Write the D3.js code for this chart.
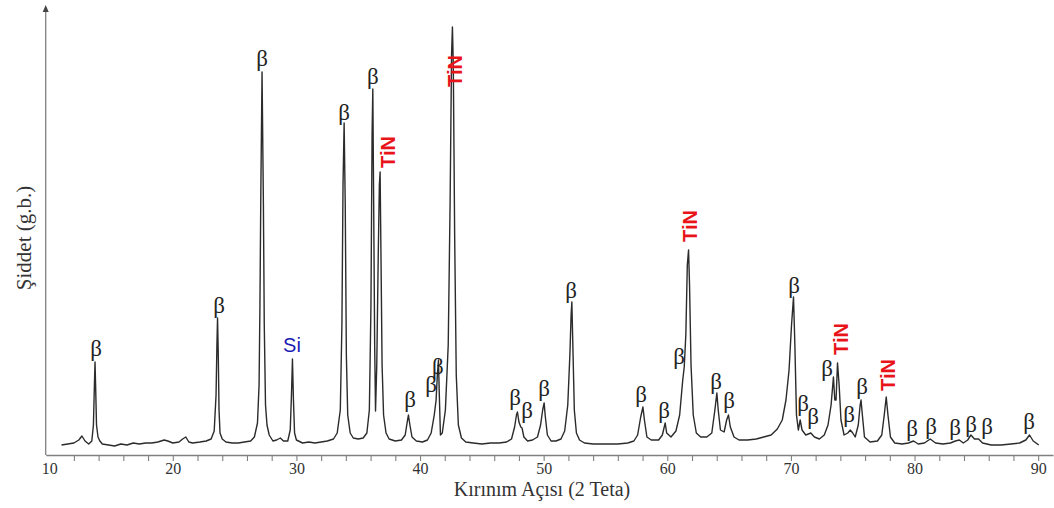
<!DOCTYPE html>
<html>
<head>
<meta charset="utf-8">
<script src="https://cdn.jsdelivr.net/npm/d3@7"></script>
<style>
  body { margin: 0; background: #fff; }
  svg { display: block; }
</style>
</head>
<body>
<svg id="chart" width="1054" height="508"></svg>
<script>
// ─── Data ─────────────────────────────────────────────────────────────────────

// XRD pattern: [2θ, intensity (a.u.)]
const pattern = [
    [11.0, 10], [11.5, 11], [12.0, 12], [12.4, 15], [12.65, 19], [12.9, 14], [13.2, 11], [13.45, 14],
    [13.58, 30], [13.66, 70], [13.71, 93], [13.76, 68], [13.83, 30], [13.95, 18], [14.1, 14], [14.3, 11],
    [14.8, 10], [15.3, 9], [15.8, 11], [16.3, 10], [16.8, 12], [17.3, 11], [17.8, 12], [18.3, 12],
    [18.8, 13], [19.3, 15], [19.6, 14], [20.0, 12], [20.5, 13], [20.8, 16], [21.05, 18], [21.3, 13],
    [21.6, 12], [22.2, 13], [22.7, 14], [23.1, 16], [23.35, 24], [23.5, 60], [23.57, 110], [23.62, 137],
    [23.68, 100], [23.74, 45], [23.82, 22], [24.0, 16], [24.3, 13], [24.8, 12], [25.3, 12], [25.8, 13],
    [26.3, 14], [26.6, 18], [26.85, 32], [26.98, 70], [27.05, 150], [27.12, 260], [27.22, 383], [27.33, 250],
    [27.4, 130], [27.5, 50], [27.62, 30], [27.8, 20], [28.1, 14], [28.4, 15], [28.7, 17], [28.95, 14],
    [29.3, 14], [29.5, 25], [29.6, 60], [29.68, 96], [29.76, 55], [29.85, 22], [30.0, 15], [30.5, 12],
    [31.0, 13], [31.5, 12], [32.0, 13], [32.5, 14], [33.0, 16], [33.3, 22], [33.55, 45], [33.68, 130],
    [33.77, 270], [33.86, 332], [33.95, 250], [34.04, 100], [34.15, 40], [34.35, 22], [34.6, 17], [35.0, 16],
    [35.4, 17], [35.7, 22], [35.9, 45], [36.03, 150], [36.12, 320], [36.18, 366], [36.25, 250], [36.33, 110],
    [36.4, 44], [36.5, 90], [36.62, 200], [36.71, 270], [36.77, 283], [36.84, 200], [36.93, 90], [37.05, 40],
    [37.25, 22], [37.5, 16], [38.0, 14], [38.5, 15], [38.8, 20], [38.95, 32], [39.06, 40], [39.18, 30],
    [39.35, 18], [39.7, 14], [40.2, 13], [40.6, 15], [40.9, 22], [41.15, 40], [41.3, 55], [41.4, 80],
    [41.49, 95], [41.56, 60], [41.65, 20], [41.8, 22], [42.05, 45], [42.28, 110], [42.43, 250], [42.55, 400],
    [42.62, 428], [42.69, 390], [42.8, 220], [42.93, 80], [43.1, 30], [43.35, 17], [43.7, 13], [44.3, 12],
    [45.0, 11], [45.7, 12], [46.4, 12], [47.0, 13], [47.4, 16], [47.65, 28], [47.8, 40], [47.88, 43],
    [48.0, 33], [48.15, 28], [48.25, 27], [48.4, 18], [48.7, 14], [49.1, 15], [49.5, 18], [49.75, 30],
    [49.92, 45], [50.04, 52], [50.12, 40], [50.3, 20], [50.6, 14], [51.0, 14], [51.4, 16], [51.7, 24],
    [51.95, 50], [52.12, 100], [52.22, 140], [52.28, 153], [52.36, 110], [52.48, 45], [52.65, 22], [52.9, 15],
    [53.3, 12], [54.0, 11], [55.0, 11], [56.0, 11], [56.8, 12], [57.3, 14], [57.6, 20], [57.85, 38],
    [58.03, 48], [58.15, 35], [58.35, 18], [58.7, 15], [59.3, 15], [59.6, 20], [59.83, 32], [59.95, 22],
    [60.3, 18], [60.7, 24], [61.0, 40], [61.25, 75], [61.37, 88], [61.5, 120], [61.62, 190], [61.72, 205],
    [61.8, 170], [61.92, 90], [62.1, 40], [62.35, 22], [62.7, 18], [63.2, 18], [63.6, 22], [63.85, 45],
    [64.01, 62], [64.12, 45], [64.3, 25], [64.6, 23], [64.8, 35], [64.95, 40], [65.1, 28], [65.4, 18],
    [65.8, 15], [66.5, 15], [67.2, 16], [67.8, 18], [68.4, 20], [68.9, 26], [69.3, 35], [69.6, 55],
    [69.85, 85], [70.05, 130], [70.21, 158], [70.32, 110], [70.45, 40], [70.6, 25], [70.75, 35], [70.9, 25],
    [71.2, 20], [71.61, 22], [71.9, 18], [72.3, 16], [72.7, 20], [73.0, 30], [73.25, 50], [73.44, 78],
    [73.55, 55], [73.65, 55], [73.77, 92], [73.9, 70], [74.05, 35], [74.3, 20], [74.6, 22], [74.8, 25],
    [75.0, 22], [75.2, 18], [75.45, 30], [75.6, 50], [75.67, 55], [75.78, 40], [75.95, 18], [76.4, 13],
    [77.0, 14], [77.35, 20], [77.55, 40], [77.71, 58], [77.85, 40], [78.05, 18], [78.4, 12], [79.0, 11],
    [79.5, 12], [79.92, 14], [80.3, 11], [80.8, 12], [81.27, 16], [81.7, 12], [82.3, 11], [82.9, 12],
    [83.3, 14], [83.62, 15], [83.95, 12], [84.3, 15], [84.56, 20], [84.85, 16], [85.18, 16], [85.5, 12],
    [86.2, 10], [87.0, 10], [87.8, 11], [88.5, 12], [89.0, 15], [89.3, 20], [89.6, 14], [90.05, 10],
];

// Phase labels: [2θ, intensity, phase]
const peakLabels = [
    [13.79, 107, "β"], [23.74, 150, "β"], [27.22, 397, "β"], [29.64, 110, "Si"],
    [33.85, 343, "β"], [36.19, 379, "β"], [37.41, 303, "TiN"], [39.19, 56, "β"],
    [40.89, 71, "β"], [41.45, 89, "β"], [42.83, 384, "TiN"], [47.68, 58, "β"],
    [48.65, 45, "β"], [50.03, 67, "β"], [52.21, 165, "β"], [57.88, 61, "β"],
    [59.74, 45, "β"], [60.95, 99, "β"], [61.84, 229, "TiN"], [63.94, 74, "β"],
    [64.99, 55, "β"], [70.25, 170, "β"], [70.98, 52, "β"], [71.79, 39, "β"],
    [72.92, 87, "β"], [74.05, 116, "TiN"], [74.7, 41, "β"], [75.75, 69, "β"],
    [77.83, 80, "TiN"], [79.8, 27, "β"], [81.34, 29, "β"], [83.28, 28, "β"],
    [84.57, 31, "β"], [85.87, 29, "β"], [89.26, 34, "β"],
];

const xTicks = d3.range(10, 91, 2);
const xLabelled = [10, 20, 30, 40, 50, 60, 70, 80, 90];

const xTitle = "Kırınım Açısı (2 Teta)";
const yTitle = "Şiddet (g.b.)";

// ─── Layout ───────────────────────────────────────────────────────────────────

const svg = d3.select("#chart");
const axisColor = "#808080";
const serif = "'Liberation Serif', 'Times New Roman', serif";
const sans = "'Liberation Sans', Arial, sans-serif";

const x = d3.scaleLinear().domain([9.72, 91.2]).range([45.7, 1053]);
const y = d3.scaleLinear().domain([0, 450]).range([455, 5]);

// x axis
const xAxis = svg.append("g")
    .attr("transform", `translate(0,${y(0)})`)
    .call(d3.axisBottom(x)
        .tickValues(xTicks)
        .tickSize(6)
        .tickSizeOuter(0)
        .tickPadding(2)
        .tickFormat(d => xLabelled.includes(d) ? d : ""));

xAxis.select(".domain").attr("stroke", axisColor).attr("stroke-width", 1.3);
xAxis.selectAll(".tick line").attr("stroke", axisColor).attr("stroke-width", 1.1)
    .filter(d => d === 10).remove();
xAxis.selectAll(".tick text")
    .attr("fill", "#333")
    .style("font-family", serif)
    .style("font-size", "16px");

// y axis: bare line with an arrowhead
const y0 = y(0), yTop = y(450);
svg.append("line")
    .attr("x1", x(9.72)).attr("x2", x(9.72))
    .attr("y1", y0).attr("y2", yTop + 5)
    .attr("stroke", axisColor)
    .attr("stroke-width", 1.3);

svg.append("path")
    .attr("d", `M${x(9.72)},${yTop} l-3,7 l6,0 z`)
    .attr("fill", "#444");

// pattern line
const line = d3.line()
    .x(d => x(d[0]))
    .y(d => y(d[1]));

svg.append("path")
    .datum(pattern)
    .attr("d", line)
    .attr("fill", "none")
    .attr("stroke", "#2b2b2b")
    .attr("stroke-width", 1.4)
    .attr("stroke-linejoin", "round");

// phase labels
const labelStyle = {
    "β": { family: serif, size: "23px", color: "#222", weight: "normal", rotate: 0 },
    "Si": { family: sans, size: "20px", color: "#1c1cb4", weight: "normal", rotate: 0 },
    "TiN": { family: sans, size: "20px", color: "#e8141a", weight: "bold", rotate: -90 },
};

svg.append("g")
    .selectAll("text")
    .data(peakLabels)
    .join("text")
    .attr("transform", d => `translate(${x(d[0])},${y(d[1])}) rotate(${labelStyle[d[2]].rotate})`)
    .attr("text-anchor", "middle")
    .attr("dominant-baseline", "central")
    .style("font-family", d => labelStyle[d[2]].family)
    .style("font-size", d => labelStyle[d[2]].size)
    .style("font-weight", d => labelStyle[d[2]].weight)
    .attr("fill", d => labelStyle[d[2]].color)
    .text(d => d[2]);

// titles
svg.append("text")
    .attr("x", 542)
    .attr("y", 496)
    .attr("text-anchor", "middle")
    .attr("fill", "#333")
    .style("font-family", serif)
    .style("font-size", "20px")
    .text(xTitle);

svg.append("text")
    .attr("transform", "translate(31,238) rotate(-90)")
    .attr("text-anchor", "middle")
    .attr("fill", "#333")
    .style("font-family", serif)
    .style("font-size", "21px")
    .text(yTitle);
</script>
</body>
</html>
